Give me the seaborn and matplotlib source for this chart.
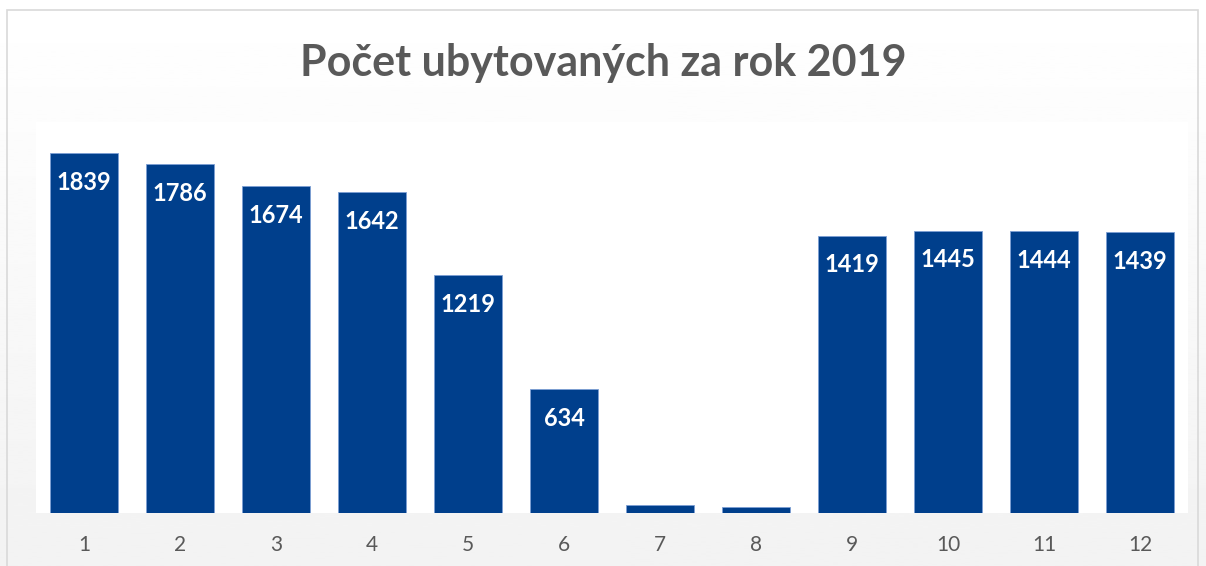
import numpy as np
import pandas as pd
import matplotlib
matplotlib.use("Agg")
import matplotlib.pyplot as plt
import seaborn as sns
from matplotlib.patches import Rectangle

# data
months = ["1", "2", "3", "4", "5", "6", "7", "8", "9", "10", "11", "12"]
guests = [1839, 1786, 1674, 1642, 1219, 634, 40, 30, 1419, 1445, 1444, 1439]
show_label = [True, True, True, True, True, True, False, False, True, True, True, True]

title = "Počet ubytovaných za rok 2019"
bar_color = "#003f8c"
text_grey = "#595959"

sns.set_theme(style="white")
plt.rcParams["font.family"] = ["Lato", "DejaVu Sans"]

df = pd.DataFrame({"mesic": months, "pocet": guests})

fig = plt.figure(figsize=(12.06, 5.66), dpi=100)

# light grey vertical gradient behind everything, with a thin border
bg = fig.add_axes([0, 0, 1, 1], zorder=0)
grad = np.linspace(1.0, 0.95, 256).reshape(-1, 1)
bg.imshow(grad, aspect="auto", cmap="gray", vmin=0, vmax=1, extent=[0, 1, 0, 1])
bg.add_patch(Rectangle((7 / 1206, -10 / 566), 1191 / 1206, 566 / 566,
                       fill=False, edgecolor="#d9d9d9", linewidth=1.2))
bg.set_xlim(0, 1)
bg.set_ylim(0, 1)
bg.axis("off")

ax = fig.add_axes([36 / 1206, 53 / 566, 1152 / 1206, 391 / 566], zorder=1)
ax.set_facecolor("white")
sns.barplot(data=df, x="mesic", y="pocet", color=bar_color, width=0.71,
            saturation=1, edgecolor="#7c9fd4", linewidth=0.6, ax=ax)

for i, (v, s) in enumerate(zip(guests, show_label)):
    if s:
        ax.text(i, v - 150, str(v), ha="center", va="center", color="white",
                fontsize=17, fontweight="bold")

ax.set_ylim(0, 2000)
ax.set_xlim(-0.5, len(months) - 0.5)
ax.set_yticks([])
ax.set_xlabel("")
ax.set_ylabel("")
ax.tick_params(axis="x", length=0, pad=16, labelsize=15, labelcolor=text_grey)
for sp in ax.spines.values():
    sp.set_visible(False)

fig.text(0.5, 1 - 63 / 566, title, ha="center", va="center",
         fontsize=31, fontweight="bold", color=text_grey)

fig.savefig("out.png", dpi=100)
